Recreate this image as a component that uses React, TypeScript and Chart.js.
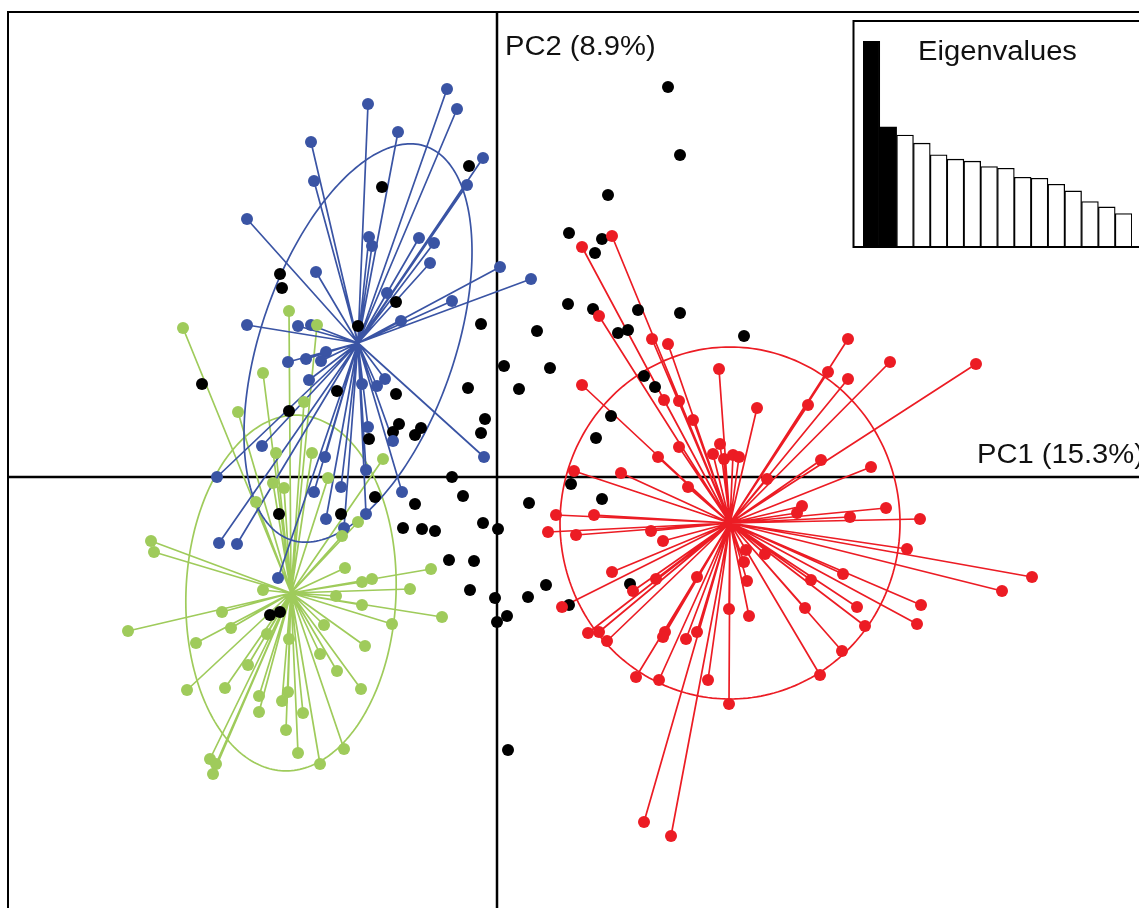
import React, { useEffect, useRef } from "react";
import { Chart, registerables } from "chart.js";
Chart.register(...registerables);

// ---------- data (PC1, PC2 scores) ----------
const blueCenter: [number, number] = [-1.39, 1.34];
const bluePoints: [number, number][] = [
  [-0.5, 3.88], [-0.4, 3.68], [-1.29, 3.73], [-0.99, 3.45], [-1.86, 3.35], [-0.14, 3.19],
  [-0.3, 2.92], [-1.83, 2.96], [-2.5, 2.58], [-1.28, 2.4], [-1.25, 2.31], [-0.78, 2.39],
  [-0.63, 2.34], [-0.67, 2.14], [-1.81, 2.05], [0.03, 2.1], [0.34, 1.98], [-1.1, 1.84],
  [-0.45, 1.76], [-0.96, 1.56], [-2.5, 1.52], [-1.99, 1.51], [-1.86, 1.52], [-1.71, 1.25],
  [-2.09, 1.15], [-1.91, 1.18], [-1.76, 1.16], [-1.88, 0.97], [-1.35, 0.93], [-1.2, 0.91],
  [-1.12, 0.98], [-1.29, 0.5], [-1.04, 0.36], [-0.13, 0.2], [-2.35, 0.31], [-1.72, 0.2],
  [-2.8, 0.0], [-1.31, 0.07], [-1.83, -0.15], [-1.56, -0.1], [-0.95, -0.15], [-1.71, -0.42],
  [-1.31, -0.37], [-1.53, -0.51], [-2.78, -0.66], [-2.6, -0.67], [-2.19, -1.01],
];

const greenCenter: [number, number] = [-2.06, -1.16];
const greenPoints: [number, number][] = [
  [-3.14, 1.49], [-2.08, 1.66], [-1.8, 1.52], [-2.34, 1.04], [-2.59, 0.65], [-1.93, 0.75],
  [-2.21, 0.24], [-1.85, 0.24], [-1.14, 0.18], [-1.69, -0.01], [-2.24, -0.06], [-2.13, -0.11],
  [-2.41, -0.25], [-1.39, -0.45], [-1.55, -0.59], [-3.46, -0.64], [-3.43, -0.75], [-1.52, -0.91],
  [-1.35, -1.05], [-1.25, -1.02], [-0.66, -0.92], [-0.87, -1.12], [-1.61, -1.19], [-2.34, -1.13],
  [-1.35, -1.28], [-0.55, -1.4], [-1.05, -1.47], [-2.75, -1.35], [-2.66, -1.51], [-3.69, -1.54],
  [-3.01, -1.66], [-1.73, -1.48], [-2.3, -1.57], [-2.08, -1.62], [-1.32, -1.69], [-1.77, -1.77],
  [-2.49, -1.88], [-1.6, -1.94], [-3.1, -2.13], [-2.72, -2.11], [-1.36, -2.12], [-2.38, -2.19],
  [-2.09, -2.15], [-2.15, -2.24], [-2.38, -2.35], [-1.94, -2.36], [-2.11, -2.53], [-1.99, -2.76],
  [-1.53, -2.72], [-1.77, -2.87], [-2.87, -2.82], [-2.81, -2.87], [-2.84, -2.97],
];

const redCenter: [number, number] = [2.33, -0.46];
const redPoints: [number, number][] = [
  [1.15, 2.41], [0.85, 2.3], [1.02, 1.61], [1.55, 1.38], [1.71, 1.33], [3.51, 1.38],
  [2.22, 1.08], [3.31, 1.05], [3.51, 0.98], [3.93, 1.15], [4.79, 1.13], [0.85, 0.92],
  [1.67, 0.77], [1.82, 0.76], [3.11, 0.72], [2.6, 0.69], [1.96, 0.57], [1.82, 0.3],
  [2.23, 0.33], [2.16, 0.23], [1.61, 0.2], [2.27, 0.18], [2.36, 0.22], [2.42, 0.2],
  [3.24, 0.17], [3.74, 0.1], [0.77, 0.06], [1.24, 0.04], [2.7, -0.02], [1.91, -0.1],
  [3.05, -0.29], [3.0, -0.36], [3.89, -0.31], [3.53, -0.4], [4.23, -0.42], [0.59, -0.38],
  [0.97, -0.38], [0.51, -0.55], [0.79, -0.58], [1.54, -0.54], [1.66, -0.64], [4.1, -0.72],
  [2.49, -0.73], [2.47, -0.85], [2.68, -0.77], [1.15, -0.95], [2.0, -1.0], [1.59, -1.02],
  [2.5, -1.04], [3.14, -1.03], [3.46, -0.97], [5.35, -1.0], [5.05, -1.14], [1.36, -1.14],
  [0.65, -1.3], [2.32, -1.32], [2.52, -1.39], [3.08, -1.31], [3.6, -1.3], [4.24, -1.28],
  [4.2, -1.47], [3.68, -1.49], [0.91, -1.56], [1.02, -1.55], [1.1, -1.64], [1.68, -1.55],
  [1.66, -1.6], [1.89, -1.62], [2.0, -1.55], [3.45, -1.74], [3.23, -1.98], [1.39, -2.0],
  [1.62, -2.03], [2.11, -2.03], [2.32, -2.27], [1.47, -3.45], [1.74, -3.59],
];

const blackPoints: [number, number][] = [
  [1.71, 3.9], [1.83, 3.22], [1.11, 2.82], [-0.28, 3.11], [-1.15, 2.9], [0.72, 2.44],
  [1.05, 2.38], [0.98, 2.24], [-2.17, 2.03], [-2.15, 1.89], [-1.01, 1.75], [-0.16, 1.53],
  [0.71, 1.73], [0.96, 1.68], [1.41, 1.67], [1.83, 1.64], [1.21, 1.44], [1.31, 1.47],
  [0.4, 1.46], [2.47, 1.41], [-1.39, 1.51], [0.07, 1.11], [0.53, 1.09], [1.47, 1.01],
  [1.58, 0.9], [-2.95, 0.93], [-1.6, 0.86], [-1.01, 0.83], [-0.29, 0.89], [0.22, 0.88],
  [-2.08, 0.66], [-0.12, 0.58], [-0.16, 0.44], [-0.98, 0.53], [-1.04, 0.45], [-0.76, 0.49],
  [-0.82, 0.42], [-1.28, 0.38], [1.14, 0.61], [0.99, 0.39], [-0.45, 0.0], [0.74, -0.07],
  [-0.34, -0.19], [-1.22, -0.2], [-0.82, -0.27], [0.32, -0.26], [1.05, -0.22], [-2.18, -0.37],
  [-1.56, -0.37], [-0.94, -0.51], [-0.75, -0.52], [-0.62, -0.54], [-0.14, -0.46], [0.01, -0.52],
  [-0.48, -0.83], [-0.23, -0.84], [-0.27, -1.13], [-0.02, -1.21], [0.31, -1.2], [0.49, -1.08],
  [0.1, -1.39], [0.0, -1.45], [0.72, -1.28], [1.33, -1.07], [-2.27, -1.38], [-2.17, -1.35],
  [0.11, -2.73],
];

// inertia ellipses: [semi-major, semi-minor, tilt of major axis from vertical in degrees]
const blueEllipse = [2.08, 0.97, 19];
const greenEllipse = [1.78, 1.05, 2.5];
const redEllipse = [1.76, 1.7, 0];

const eigenValues = [6.17, 3.6, 3.35, 3.11, 2.76, 2.63, 2.57, 2.41, 2.36, 2.09, 2.06, 1.88, 1.68, 1.36, 1.2, 1.0];
const eigenLabels = eigenValues.map((_, i) => `${i + 1}`);

const axisLabelX = "PC1 (15.3%)";
const axisLabelY = "PC2 (8.9%)";
const insetTitle = "Eigenvalues";

// ---------- view ----------
const X_MIN = -4.97, X_MAX = 6.42, Y_MIN = -4.31, Y_MAX = 4.77;
const FRAME_LEFT = -4.89, FRAME_TOP = 4.65;

const BLUE = "#3a54a4";
const GREEN = "#9fcb5b";
const RED = "#ec1c24";
const BLACK = "#000000";
const FONT = '27px "Liberation Sans", Arial, sans-serif';
const TEXT_STRETCH = 1.08;

function drawStretchedText(ctx: CanvasRenderingContext2D, text: string, x: number, y: number, align: "left" | "center") {
  ctx.save();
  ctx.font = FONT;
  ctx.fillStyle = "#111";
  ctx.textBaseline = "alphabetic";
  ctx.textAlign = "left";
  const w = ctx.measureText(text).width * TEXT_STRETCH;
  const startX = align === "center" ? x - w / 2 : x;
  ctx.translate(startX, y);
  ctx.scale(TEXT_STRETCH, 1);
  ctx.fillText(text, 0, 0);
  ctx.restore();
}

const groups = [
  { color: GREEN, center: greenCenter, points: greenPoints, ellipse: greenEllipse },
  { color: BLUE, center: blueCenter, points: bluePoints, ellipse: blueEllipse },
  { color: RED, center: redCenter, points: redPoints, ellipse: redEllipse },
];

const decorPlugin = {
  id: "pcaDecor",
  beforeDatasetsDraw(chart: any) {
    const { ctx } = chart;
    const xs = chart.scales.x, ys = chart.scales.y;
    const X = (v: number) => xs.getPixelForValue(v);
    const Y = (v: number) => ys.getPixelForValue(v);
    ctx.save();
    ctx.fillStyle = "#fff";
    ctx.fillRect(0, 0, chart.width, chart.height);
    // frame
    ctx.strokeStyle = BLACK;
    ctx.lineWidth = 2;
    ctx.beginPath();
    ctx.moveTo(X(FRAME_LEFT), Y(Y_MIN));
    ctx.lineTo(X(FRAME_LEFT), Y(FRAME_TOP));
    ctx.lineTo(X(X_MAX), Y(FRAME_TOP));
    ctx.stroke();
    // axes
    ctx.lineWidth = 2.5;
    ctx.beginPath();
    ctx.moveTo(X(FRAME_LEFT), Y(0));
    ctx.lineTo(X(X_MAX), Y(0));
    ctx.moveTo(X(0), Y(FRAME_TOP));
    ctx.lineTo(X(0), Y(Y_MIN));
    ctx.stroke();
    // axis labels
    drawStretchedText(ctx, axisLabelY, X(0) + 8, Y(FRAME_TOP) + 43, "left");
    drawStretchedText(ctx, axisLabelX, X(0) + 480, Y(0) - 14, "left");
    // stars and ellipses
    ctx.lineWidth = 1.7;
    for (const g of groups) {
      ctx.strokeStyle = g.color;
      ctx.beginPath();
      for (const p of g.points) {
        ctx.moveTo(X(g.center[0]), Y(g.center[1]));
        ctx.lineTo(X(p[0]), Y(p[1]));
      }
      ctx.stroke();
      const [a, b, deg] = g.ellipse;
      const phi = (deg * Math.PI) / 180;
      const ux = Math.sin(phi), uy = Math.cos(phi);
      const vx = Math.cos(phi), vy = -Math.sin(phi);
      ctx.beginPath();
      for (let i = 0; i <= 240; i++) {
        const t = (i / 240) * Math.PI * 2;
        const dx = a * Math.cos(t) * ux + b * Math.sin(t) * vx;
        const dy = a * Math.cos(t) * uy + b * Math.sin(t) * vy;
        const px = X(g.center[0] + dx), py = Y(g.center[1] + dy);
        if (i === 0) ctx.moveTo(px, py);
        else ctx.lineTo(px, py);
      }
      ctx.closePath();
      ctx.stroke();
    }
    ctx.restore();
  },
};

const insetPlugin = {
  id: "insetDecor",
  beforeDraw(chart: any) {
    const { ctx } = chart;
    ctx.save();
    ctx.fillStyle = "#fff";
    ctx.fillRect(0, 0, chart.width, chart.height);
    ctx.restore();
  },
  afterDraw(chart: any) {
    const { ctx, chartArea } = chart;
    ctx.save();
    ctx.strokeStyle = BLACK;
    ctx.lineWidth = 2;
    ctx.beginPath();
    ctx.moveTo(chart.width, chartArea.bottom);
    ctx.lineTo(chartArea.left - 9.5, chartArea.bottom);
    ctx.lineTo(chartArea.left - 9.5, chartArea.top - 20);
    ctx.lineTo(chart.width, chartArea.top - 20);
    ctx.stroke();
    ctx.restore();
    drawStretchedText(ctx, insetTitle, (chartArea.left + chartArea.right) / 2, chartArea.top + 19, "center");
  },
};

export default function App() {
  const mainRef = useRef<HTMLCanvasElement>(null);
  const insetRef = useRef<HTMLCanvasElement>(null);

  useEffect(() => {
    const toXY = (arr: [number, number][]) => arr.map(([x, y]) => ({ x, y }));
    const ds = (pts: [number, number][], color: string) => ({
      data: toXY(pts),
      backgroundColor: color,
      borderColor: color,
      pointRadius: 6,
      pointHoverRadius: 6,
      pointBorderWidth: 0,
      clip: false as any,
    });
    const main = new Chart(mainRef.current!, {
      type: "scatter",
      data: {
        datasets: [
          ds(greenPoints, GREEN),
          ds(bluePoints, BLUE),
          ds(redPoints, RED),
          ds(blackPoints, BLACK),
        ],
      },
      options: {
        responsive: false,
        animation: false,
        events: [],
        layout: { padding: 0, autoPadding: false },
        scales: {
          x: { type: "linear", min: X_MIN, max: X_MAX, display: false },
          y: { type: "linear", min: Y_MIN, max: Y_MAX, display: false },
        },
        plugins: { legend: { display: false }, tooltip: { enabled: false } },
      },
      plugins: [decorPlugin],
    });

    const inset = new Chart(insetRef.current!, {
      type: "bar",
      data: {
        labels: eigenLabels,
        datasets: [
          {
            data: eigenValues,
            backgroundColor: eigenValues.map((_, i) => (i < 2 ? BLACK : "#ffffff")),
            borderColor: BLACK,
            borderWidth: 1.3,
            borderSkipped: false,
            categoryPercentage: 1,
            barPercentage: 1,
          },
        ],
      },
      options: {
        responsive: false,
        animation: false,
        events: [],
        layout: { padding: { left: 11, right: 7, top: 22, bottom: 3 }, autoPadding: false },
        scales: {
          x: { display: false },
          y: { display: false, min: 0, max: eigenValues[0] },
        },
        plugins: { legend: { display: false }, tooltip: { enabled: false } },
      },
      plugins: [insetPlugin],
    });

    return () => {
      main.destroy();
      inset.destroy();
    };
  }, []);

  return (
    <div style={{ position: "absolute", left: 0, top: 0, width: 1139, height: 908, overflow: "hidden", background: "#fff" }}>
      <canvas ref={mainRef} width={1139} height={908} style={{ position: "absolute", left: 0, top: 0 }} />
      <canvas ref={insetRef} width={287} height={231} style={{ position: "absolute", left: 852, top: 19 }} />
    </div>
  );
}
